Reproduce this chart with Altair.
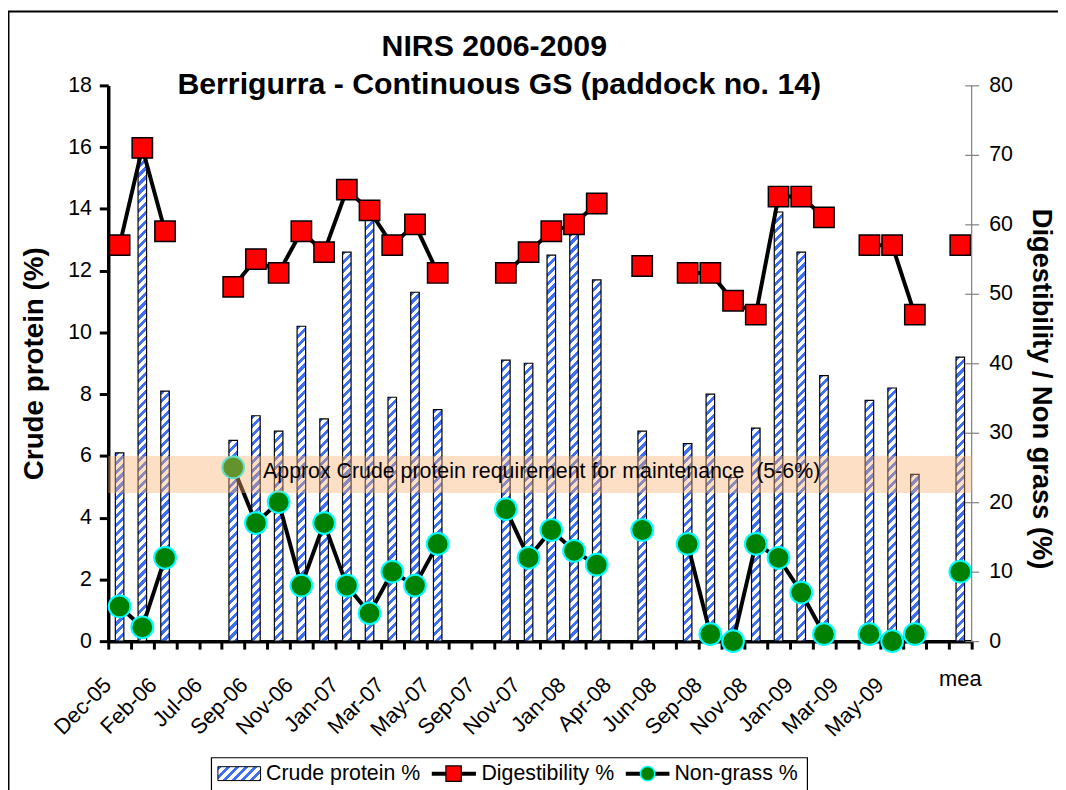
import json
import altair as alt

# ---------------- data ----------------
cats = ["Dec-05", "Jan-06", "Feb-06", "Mar-06", "Jul-06", "Aug-06", "Sep-06", "Oct-06",
        "Nov-06", "Dec-06", "Jan-07", "Feb-07", "Mar-07", "Apr-07", "May-07", "Jul-07",
        "Sep-07", "Oct-07", "Nov-07", "Dec-07", "Jan-08", "Feb-08", "Apr-08", "May-08",
        "Jun-08", "Aug-08", "Sep-08", "Oct-08", "Nov-08", "Dec-08", "Jan-09", "Feb-09",
        "Mar-09", "Apr-09", "May-09", "Jun-09", "", "mean"]

crude_protein = [6.1, 16.0, 8.1, None, None, 6.5, 7.3, 6.8, 10.2, 7.2, 12.6, 13.7, 7.9, 11.3,
                 7.5, None, None, 9.1, 9.0, 12.5, 13.5, 11.7, None, 6.8, None, 6.4, 8.0, 5.3,
                 6.9, 13.9, 12.6, 8.6, None, 7.8, 8.2, 5.4, None, 9.2]

digestibility = [57, 71, 59, None, None, 51, 55, 53, 59, 56, 65, 62, 57, 60, 53, None, None,
                 53, 56, 59, 60, 63, None, 54, None, 53, 53, 49, 47, 64, 64, 61, None, 57, 57,
                 47, None, 57]

non_grass = [5, 2, 12, None, None, 25, 17, 20, 8, 17, 8, 4, 10, 8, 14, None, None, 19, 12, 16,
             13, 11, None, 16, None, 14, 1, 0, 14, 12, 7, 1, None, 1, 0, 1, None, 10]

band_range = [4.8, 6.0]
left_ticks = [0, 2, 4, 6, 8, 10, 12, 14, 16, 18]
right_ticks = [0, 10, 20, 30, 40, 50, 60, 70, 80]
series_names = ["Crude protein %", "Digestibility %", "Non-grass %"]

# ---------------- layout / style ----------------
W, H = 870, 560
PAD = {"left": 101, "top": 75, "right": 87, "bottom": 147}
BAR_W = 8.6
STRIPE = "#3F70F2"
FONT = "Liberation Sans"
FS = 21.5


def hatch(w, h, period=9.0, bw=4.2):
    """Diagonal '/' stripes as a linear gradient in the box of a w x h rect."""
    L = w + h
    stops = []
    k = 0
    while k * period < L:
        d0 = k * period
        d1 = min(d0 + bw, L)
        for off, col in ((d0, "white"), (d0, STRIPE), (d1, STRIPE), (d1, "white")):
            stops.append({"offset": round(off / L, 6), "color": col})
        k += 1
    n = w * w + h * h
    return {"gradient": "linear", "x1": 0, "y1": 0,
            "x2": w * L / n, "y2": h * L / n, "stops": stops}


bar_rows = []
for c, v in zip(cats, crude_protein):
    bar_rows.append({"cat": c, "cp": v,
                     "grad": hatch(BAR_W, v * H / 18.0) if v is not None else None})

long_rows = []
for name, vals in ((series_names[1], digestibility), (series_names[2], non_grass)):
    seg = 0
    prev = None
    for c, v in zip(cats, vals):
        if v is None:
            prev = None
            continue
        if prev is None:
            seg += 1
        long_rows.append({"cat": c, "series": name, "value": v, "seg": f"{name}-{seg}"})
        prev = v

one = alt.Data(values=[{}])

label_expr = f"indexof({json.dumps(cats)}, datum.value) % 2 == 0 ? datum.value : ''"

x_axis = alt.Axis(orient="bottom", domainColor="black", domainWidth=3.5, tickColor="black",
                  tickWidth=3, tickSize=8, tickBand="extent", labelAngle=315,
                  labelAlign="right", labelBaseline="alphabetic", labelPadding=37,
                  labelOffset=-7.5, labelFontSize=22, labelColor="black", labelFont=FONT,
                  labelOverlap=False, labelExpr=label_expr, title="", grid=False)


def X():
    return alt.X("cat:O", scale=alt.Scale(domain=cats, paddingInner=0, paddingOuter=0),
                 axis=x_axis)


left_axis = alt.Axis(orient="left", values=left_ticks, domainColor="black", domainWidth=3.5,
                     tickColor="black", tickWidth=3, tickSize=9, labelPadding=8,
                     labelFontSize=FS, labelColor="black", labelFont=FONT, grid=False,
                     title="Crude protein (%)", titleFontSize=28, titleFontWeight="bold",
                     titleColor="black", titleFont=FONT, titleAngle=270, titleX=-74.5,
                     titleY=280, titleAlign="center", titleBaseline="middle")

right_axis = alt.Axis(orient="right", values=right_ticks, offset=-7, domain=False,
                      tickColor="#808080", tickWidth=1.2, tickSize=14, labelPadding=10.2,
                      labelFontSize=FS, labelColor="black", labelFont=FONT, grid=False,
                      title="Digestibility / Non grass (%)", titleFontSize=27.5,
                      titleFontWeight="bold", titleColor="black", titleFont=FONT,
                      titleAngle=90, titleX=76.5, titleY=305.5, titleAlign="center",
                      titleBaseline="middle")


def YR():
    return alt.Y("value:Q", scale=alt.Scale(domain=[0, 80], nice=False), axis=right_axis)


bars = alt.Chart(alt.Data(values=bar_rows)).mark_bar(
    size=BAR_W, stroke="black", strokeWidth=1.2
).encode(
    x=X(),
    y=alt.Y("cp:Q", scale=alt.Scale(domain=[0, 18], nice=False), axis=left_axis),
    fill=alt.Fill("grad:N", scale=None),
)

ldata = alt.Data(values=long_rows)
lines = alt.Chart(ldata).mark_line(color="black", strokeWidth=4).encode(
    x=X(), y=YR(), detail="seg:N")
dig_pts = alt.Chart(ldata).transform_filter(
    alt.datum.series == series_names[1]
).mark_point(shape="square", filled=True, fill="#FF0000", stroke="black", strokeWidth=1.5,
             size=420, opacity=1).encode(x=X(), y=YR())
ng_pts = alt.Chart(ldata).transform_filter(
    alt.datum.series == series_names[2]
).mark_point(shape="circle", filled=True, fill="#008000", stroke="#00FFFF", strokeWidth=2,
             size=480, opacity=1).encode(x=X(), y=YR())
right_group = alt.layer(lines, dig_pts, ng_pts)

right_domain = alt.Chart(one).mark_rule(color="#808080", strokeWidth=1.2).encode(
    x=alt.value(W), y=alt.value(0), y2=alt.value(H))

band = alt.Chart(alt.Data(values=[{"lo": band_range[0], "hi": band_range[1]}])).mark_rect(
    color="#F9B070", opacity=0.4
).encode(
    x=alt.value(0), x2=alt.value(W),
    y=alt.Y("lo:Q", scale=alt.Scale(domain=[0, 18], nice=False), axis=None),
    y2="hi:Q",
)

annot = alt.Chart(one).mark_text(
    text="Approx Crude protein requirement for maintenance \u00a0(5-6%)", align="left",
    baseline="middle", fontSize=FS, font=FONT, color="black"
).encode(x=alt.value(156), y=alt.value(390))

title1 = alt.Chart(one).mark_text(
    text="NIRS 2006-2009", align="center", baseline="middle", fontSize=30.5,
    fontWeight="bold", font=FONT, color="black"
).encode(x=alt.value(389), y=alt.value(-38.5))
title2 = alt.Chart(one).mark_text(
    text="Berrigurra - Continuous GS (paddock no. 14)", align="center", baseline="middle",
    fontSize=30.5, fontWeight="bold", font=FONT, color="black"
).encode(x=alt.value(394), y=alt.value(0))

mea = alt.Chart(alt.Data(values=[{"cat": "mean"}])).mark_text(
    text="mea", align="center", baseline="alphabetic", fontSize=22, font=FONT, color="black"
).encode(x=X(), y=alt.value(605.5))

frame = alt.Chart(one).mark_rect(fill="white", fillOpacity=0, stroke="black",
                                 strokeWidth=2).encode(
    x=alt.value(-100.5), x2=alt.value(W + 120), y=alt.value(-74.5), y2=alt.value(H + 170))

# ---------------- legend ----------------
LY = 693.5
leg_box = alt.Chart(one).mark_rect(fill="white", stroke="black", strokeWidth=1.2).encode(
    x=alt.value(104), x2=alt.value(704.5), y=alt.value(677.5), y2=alt.value(745))
leg_cp = alt.Chart(one).mark_rect(fill=hatch(43, 14), stroke="black", strokeWidth=1).encode(
    x=alt.value(110.5), x2=alt.value(153.5), y=alt.value(LY - 7), y2=alt.value(LY + 7))
leg_dig_line = alt.Chart(one).mark_rule(color="black", strokeWidth=4).encode(
    x=alt.value(326), x2=alt.value(370.5), y=alt.value(LY))
leg_dig_pt = alt.Chart(one).mark_point(shape="square", filled=True, fill="#FF0000",
                                       stroke="black", strokeWidth=1.2, size=240,
                                       opacity=1).encode(x=alt.value(348), y=alt.value(LY))
leg_ng_line = alt.Chart(one).mark_rule(color="black", strokeWidth=4).encode(
    x=alt.value(521.5), x2=alt.value(565.5), y=alt.value(LY))
leg_ng_pt = alt.Chart(one).mark_point(shape="circle", filled=True, fill="#008000",
                                      stroke="#00FFFF", strokeWidth=1.5, size=210,
                                      opacity=1).encode(x=alt.value(543.5), y=alt.value(LY))
leg_texts = [
    alt.Chart(one).mark_text(text=t, align="left", baseline="middle", fontSize=FS, font=FONT,
                             color="black").encode(x=alt.value(xp), y=alt.value(LY))
    for t, xp in zip(series_names, [159, 376, 570.5])
]

chart = alt.layer(
    frame, bars, right_group, right_domain, band, annot, title1, title2, mea,
    leg_box, leg_cp, leg_dig_line, leg_dig_pt, leg_ng_line, leg_ng_pt, *leg_texts
).resolve_scale(
    y="independent"
).properties(
    width=W, height=H, padding=PAD, autosize=alt.AutoSizeParams(type="none"),
    background="white"
).configure(font=FONT).configure_view(strokeWidth=0)

chart.save("out.html", embed_options={"renderer": "svg", "actions": False})
